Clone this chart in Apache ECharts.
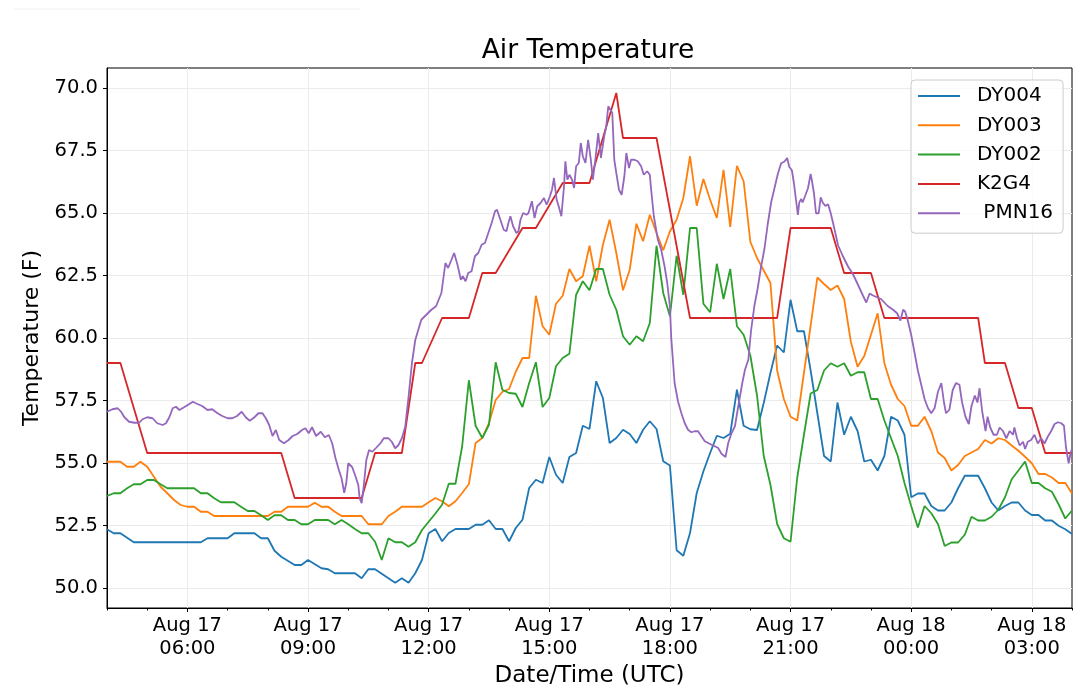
<!DOCTYPE html>
<html>
<head>
    <meta charset="utf-8">
    <script src="https://cdn.jsdelivr.net/npm/echarts@6/dist/echarts.min.js"></script>
    <style>
        html, body { margin: 0; padding: 0; background: #fff; }
    </style>
</head>
<body>
    <div id="main" style="width:1080px;height:697px"></div>

    <script type="text/javascript">
        // times are clock times on Aug 17, values past 24:00 are Aug 18
        var dy004Times = ['04:00','04:10','04:20','04:40','06:20','06:30','07:00','07:10','07:40','07:50','08:00','08:10','08:20','08:40','08:50','09:00','09:20','09:30','09:40','10:10','10:20','10:30','10:40','11:10','11:20','11:30','11:40','11:50','12:00','12:10','12:20','12:30','12:40','13:00','13:10','13:20','13:30','13:40','13:50','14:00','14:10','14:20','14:30','14:40','14:50','15:00','15:10','15:20','15:30','15:40','15:50','16:00','16:10','16:20','16:30','16:40','16:50','17:00','17:10','17:20','17:30','17:40','17:50','18:00','18:10','18:20','18:30','18:40','18:50','19:00','19:10','19:20','19:30','19:40','19:50','20:00','20:10','20:20','20:30','20:40','20:50','21:00','21:10','21:20','21:30','21:50','22:00','22:10','22:20','22:30','22:40','22:50','23:00','23:10','23:20','23:30','23:40','23:50','24:00','24:10','24:20','24:30','24:40','24:50','25:00','25:10','25:20','25:40','25:50','26:00','26:10','26:20','26:30','26:40','26:50','27:00','27:10','27:20','27:30','27:40','27:50','28:00'];
        var dy004Values = [52.35,52.19,52.19,51.83,51.83,51.99,51.99,52.19,52.19,51.99,51.99,51.49,51.25,50.92,50.92,51.12,50.79,50.75,50.59,50.59,50.39,50.75,50.75,50.21,50.39,50.21,50.59,51.12,52.19,52.36,51.87,52.2,52.36,52.36,52.53,52.53,52.71,52.36,52.36,51.87,52.4,52.73,54.0,54.33,54.2,55.24,54.53,54.2,55.24,55.4,56.49,56.36,58.27,57.6,55.8,56.0,56.33,56.16,55.8,56.33,56.67,56.36,55.07,54.9,51.51,51.29,52.2,53.8,54.67,55.4,56.09,56.0,56.17,57.93,56.49,56.35,56.32,57.4,58.6,59.7,59.42,61.53,60.27,60.27,58.7,55.28,55.06,57.42,56.13,56.85,56.28,55.06,55.13,54.7,55.28,56.85,56.7,56.13,53.63,53.78,53.78,53.28,53.1,53.1,53.42,53.99,54.49,54.49,53.99,53.42,53.1,53.28,53.42,53.42,53.1,52.92,52.92,52.7,52.7,52.49,52.35,52.16];

        var dy003Times = ['04:00','04:20','04:30','04:40','04:50','05:00','05:10','05:20','05:30','05:40','05:50','06:00','06:10','06:20','06:30','06:40','08:00','08:10','08:20','08:30','09:00','09:10','09:20','09:30','09:40','09:50','10:20','10:30','10:50','11:00','11:10','11:20','11:50','12:00','12:10','12:20','12:30','12:40','12:50','13:00','13:10','13:20','13:30','13:40','13:50','14:00','14:10','14:20','14:30','14:40','14:50','15:00','15:10','15:20','15:30','15:40','15:50','16:00','16:10','16:20','16:30','16:40','16:50','17:00','17:10','17:20','17:30','17:40','17:50','18:00','18:10','18:20','18:30','18:40','18:50','19:00','19:10','19:20','19:30','19:40','19:50','20:00','20:10','20:20','20:30','20:40','20:50','21:00','21:10','21:20','21:30','21:40','21:50','22:00','22:10','22:20','22:30','22:40','22:50','23:00','23:10','23:20','23:30','23:40','23:50','24:00','24:10','24:20','24:30','24:40','24:50','25:00','25:10','25:20','25:30','25:40','25:50','26:00','26:10','26:20','26:30','26:40','26:50','27:00','27:10','27:20','27:30','27:40','27:50','28:00'];
        var dy003Values = [55.05,55.05,54.85,54.85,55.05,54.85,54.45,54.05,53.79,53.52,53.32,53.25,53.25,53.05,53.05,52.88,52.88,53.05,53.05,53.25,53.25,53.41,53.25,53.25,53.05,52.88,52.88,52.55,52.55,52.88,53.05,53.25,53.25,53.43,53.6,53.47,53.27,53.47,53.8,54.16,55.8,56.0,56.6,57.52,57.85,57.96,58.65,59.2,59.2,61.69,60.47,60.13,61.37,61.69,62.76,62.27,62.47,63.69,62.27,63.73,64.73,63.4,61.91,62.73,64.57,63.87,64.93,64.2,63.51,64.27,64.73,65.6,67.27,65.29,66.36,65.53,64.8,66.73,64.44,66.89,66.27,63.85,63.2,62.7,62.2,58.7,57.56,56.85,56.7,58.6,60.5,62.42,62.16,61.92,62.1,61.56,59.85,58.85,59.28,60.13,60.99,58.99,58.13,57.56,57.28,56.49,56.49,56.85,56.28,55.42,55.2,54.7,54.92,55.28,55.42,55.56,55.92,55.78,55.99,55.92,55.7,55.49,55.25,54.99,54.56,54.56,54.42,54.2,54.2,53.78];

        var dy002Times = ['04:00','04:10','04:20','04:30','04:40','04:50','05:00','05:10','05:20','05:30','06:10','06:20','06:30','06:40','06:50','07:10','07:20','07:30','07:40','07:50','08:00','08:10','08:20','08:30','08:40','08:50','09:00','09:10','09:30','09:40','09:50','10:00','10:10','10:20','10:30','10:40','10:50','11:00','11:10','11:20','11:30','11:40','11:50','12:00','12:10','12:20','12:30','12:40','12:50','13:00','13:10','13:20','13:30','13:40','13:50','14:00','14:10','14:20','14:30','14:40','14:50','15:00','15:10','15:20','15:30','15:40','15:50','16:00','16:10','16:20','16:30','16:40','16:50','17:00','17:10','17:20','17:30','17:40','17:50','18:00','18:10','18:20','18:30','18:40','18:50','19:00','19:10','19:20','19:30','19:40','19:50','20:00','20:10','20:20','20:30','20:40','20:50','21:00','21:10','21:20','21:30','21:40','21:50','22:00','22:10','22:20','22:30','22:40','22:50','23:00','23:10','23:20','23:30','23:40','23:50','24:00','24:10','24:20','24:30','24:40','24:50','25:00','25:10','25:20','25:30','25:40','25:50','26:00','26:10','26:20','26:30','26:40','26:50','27:00','27:10','27:20','27:30','27:40','27:50','28:00'];
        var dy002Values = [53.68,53.79,53.79,53.99,54.15,54.15,54.32,54.32,54.15,53.99,53.99,53.79,53.79,53.59,53.43,53.43,53.25,53.08,53.08,52.91,52.72,52.91,52.91,52.72,52.72,52.55,52.55,52.72,52.72,52.55,52.72,52.55,52.36,52.19,52.19,51.85,51.12,51.99,51.83,51.83,51.65,51.83,52.32,52.65,52.98,53.33,54.17,54.17,55.67,58.31,56.49,56.0,56.53,59.03,57.93,57.8,57.77,57.24,58.2,59.03,57.24,57.6,58.87,59.2,59.37,61.73,62.27,61.91,62.76,62.76,61.73,61.13,60.07,59.73,60.07,59.87,60.6,63.69,61.8,60.87,63.29,61.73,64.4,64.4,61.37,61.03,62.97,61.56,62.76,60.47,60.13,59.3,57.7,55.28,54.13,52.56,51.99,51.85,54.42,56.13,57.78,57.92,58.7,58.99,58.85,58.99,58.49,58.63,58.63,57.56,57.56,56.7,55.99,55.28,54.2,53.28,52.42,53.28,52.99,52.56,51.68,51.82,51.82,52.13,52.85,52.7,52.7,52.85,53.13,53.63,54.35,54.7,55.06,54.2,54.2,53.99,53.85,53.35,52.78,53.1];

        var k2g4Times = ['04:00','04:20','05:00','08:20','08:40','10:20','10:40','11:20','11:40','11:50','12:20','13:00','13:20','13:40','14:20','14:40','15:20','16:00','16:40','16:50','17:40','18:30','20:40','21:00','22:00','22:20','23:00','23:20','25:40','25:50','26:20','26:40','27:00','27:20','28:00'];
        var k2g4Values = [59,59,55.4,55.4,53.6,53.6,55.4,55.4,59,59,60.8,60.8,62.6,62.6,64.4,64.4,66.2,66.2,69.8,68,68,60.8,60.8,64.4,64.4,62.6,62.6,60.8,60.8,59,59,57.2,57.2,55.4,55.4];

        var pmn16Times = ['04:00','04:08','04:16','04:21','04:26','04:33','04:41','04:48','04:53','05:00','05:08','05:15','05:23','05:28','05:33','05:38','05:43','05:48','05:55','06:03','06:08','06:15','06:22','06:30','06:37','06:45','06:52','07:00','07:07','07:14','07:21','07:27','07:33','07:40','07:46','07:52','07:57','08:02','08:07','08:12','08:17','08:24','08:31','08:37','08:44','08:51','08:56','09:01','09:06','09:12','09:19','09:25','09:31','09:36','09:41','09:46','09:50','09:54','09:57','10:00','10:06','10:11','10:15','10:17','10:20','10:23','10:27','10:31','10:36','10:41','10:48','10:53','11:00','11:05','11:10','11:15','11:20','11:25','11:30','11:35','11:40','11:49','12:04','12:11','12:19','12:25','12:29','12:34','12:38','12:43','12:48','12:51','12:55','12:59','13:04','13:09','13:14','13:19','13:24','13:29','13:34','13:39','13:42','13:47','13:52','13:56','13:59','14:02','14:06','14:11','14:14','14:17','14:21','14:26','14:29','14:34','14:38','14:42','14:47','14:52','14:56','15:01','15:04','15:07','15:11','15:14','15:18','15:22','15:24','15:27','15:30','15:34','15:37','15:40','15:44','15:47','15:50','15:54','15:58','16:02','16:05','16:09','16:13','16:17','16:19','16:22','16:25','16:28','16:30','16:34','16:37','16:40','16:44','16:48','16:52','16:55','16:59','17:02','17:07','17:12','17:17','17:21','17:26','17:30','17:32','17:36','17:42','17:47','17:52','17:56','18:00','18:02','18:07','18:12','18:17','18:22','18:27','18:32','18:37','18:42','18:47','18:52','18:57','19:02','19:07','19:12','19:17','19:23','19:27','19:32','19:37','19:42','19:48','19:52','19:57','20:01','20:06','20:11','20:16','20:21','20:26','20:31','20:36','20:41','20:46','20:51','20:55','20:58','21:02','21:05','21:08','21:11','21:13','21:16','21:18','21:22','21:26','21:30','21:32','21:35','21:38','21:42','21:45','21:48','21:52','21:56','22:00','22:05','22:11','22:18','22:26','22:33','22:38','22:43','22:48','22:53','22:58','23:03','23:09','23:15','23:20','23:25','23:33','23:39','23:44','23:48','23:51','23:55','24:00','24:05','24:10','24:15','24:20','24:25','24:30','24:35','24:40','24:45','24:49','24:52','24:57','25:02','25:07','25:12','25:16','25:21','25:26','25:30','25:35','25:39','25:42','25:46','25:51','25:54','25:58','26:03','26:08','26:12','26:17','26:22','26:27','26:32','26:34','26:38','26:42','26:47','26:50','26:54','26:59','27:04','27:09','27:14','27:19','27:24','27:29','27:34','27:39','27:44','27:48','27:51','27:55','27:58','28:00'];
        var pmn16Values = [57.05,57.15,57.19,57.05,56.83,56.65,56.61,56.61,56.75,56.83,56.79,56.59,56.52,56.59,56.83,57.19,57.25,57.12,57.23,57.36,57.45,57.36,57.28,57.12,57.15,56.99,56.88,56.79,56.79,56.88,57.05,56.83,56.69,56.83,56.99,56.99,56.79,56.52,56.08,56.32,55.92,55.79,55.92,56.08,56.16,56.32,56.39,56.19,56.43,56.08,56.25,56.03,56.12,55.79,55.19,54.72,54.39,53.81,54.19,54.99,54.83,54.45,54.12,53.59,53.39,54.05,55.12,55.52,55.45,55.59,55.79,55.99,55.99,55.85,55.59,55.72,55.99,56.45,57.65,58.99,59.92,60.73,61.13,61.27,61.8,63.0,62.8,63.13,63.4,62.93,62.33,62.47,62.27,62.6,62.67,63.27,63.4,63.73,63.8,64.2,64.6,65.07,65.13,64.73,64.33,64.27,64.6,64.87,64.47,64.2,64.27,64.73,65.0,64.93,65.0,65.47,64.8,65.27,65.4,65.6,65.33,65.67,65.93,66.4,65.53,65.27,64.87,66.07,67.07,66.33,66.53,66.33,66.0,66.87,67.0,67.8,67.27,67.0,67.93,67.13,66.33,67.2,68.2,67.2,67.13,68.07,68.47,69.27,69.33,69.0,67.13,66.6,65.93,65.73,66.47,67.4,66.8,67.13,67.13,67.07,66.87,66.53,66.67,66.53,65.93,64.87,63.93,63.53,62.87,62.2,61.27,60.0,58.2,57.47,57.0,56.6,56.33,56.23,56.27,56.27,56.07,55.87,55.8,55.73,55.67,55.6,55.37,55.24,55.8,56.2,56.47,57.27,58.2,58.73,59.13,60.28,61.28,61.99,62.85,63.56,64.56,65.42,65.99,66.56,66.99,67.06,67.2,66.85,66.71,66.2,65.56,64.92,65.42,65.56,65.42,65.7,65.99,66.56,66.28,65.78,64.99,64.99,65.63,65.42,65.28,65.35,64.99,64.42,63.7,63.28,62.85,62.56,62.28,61.99,61.7,61.42,61.78,61.7,61.63,61.56,61.42,61.28,61.13,60.99,60.7,61.13,61.06,60.7,60.13,59.42,58.7,58.13,57.56,57.2,56.99,57.2,57.85,58.2,57.42,56.99,57.13,57.92,58.2,58.13,57.42,56.85,56.56,57.28,57.7,57.42,57.99,57.06,56.28,56.85,56.42,56.13,56.13,56.42,56.28,55.99,56.28,56.13,56.42,55.99,55.7,55.85,55.56,55.85,55.92,56.13,55.78,55.99,55.78,56.06,56.28,56.56,56.63,56.59,56.49,55.63,54.99,55.42,55.56];

        var seriesNames = ['DY004', 'DY003', 'DY002', 'K2G4', ' PMN16'];
        var seriesColors = ['#1f77b4', '#ff7f0e', '#2ca02c', '#d62728', '#9467bd'];
        var xTicks = [6, 9, 12, 15, 18, 21, 24, 27];
        var yTicks = [50, 52.5, 55, 57.5, 60, 62.5, 65, 67.5, 70];

        function toHours(t) {
            var p = t.split(':');
            return parseInt(p[0], 10) + parseInt(p[1], 10) / 60;
        }

        function pairs(times, values) {
            var out = [];
            for (var i = 0; i < times.length; i++) {
                out.push([toHours(times[i]), values[i]]);
            }
            return out;
        }

        var allData = [
            pairs(dy004Times, dy004Values),
            pairs(dy003Times, dy003Values),
            pairs(dy002Times, dy002Values),
            pairs(k2g4Times, k2g4Values),
            pairs(pmn16Times, pmn16Values)
        ];

        var font = 'DejaVu Sans';

        var series = [];
        for (var i = 0; i < seriesNames.length; i++) {
            series.push({
                name: seriesNames[i],
                type: 'line',
                data: allData[i],
                showSymbol: false,
                symbol: 'none',
                lineStyle: { width: 1.8, color: seriesColors[i] },
                itemStyle: { color: seriesColors[i] }
            });
        }

        var myChart = echarts.init(document.getElementById('main'));
        var option = {
            animation: false,
            backgroundColor: '#fff',
            title: {
                text: 'Air Temperature',
                left: 588,
                top: 38,
                padding: 0,
                textAlign: 'center',
                textStyle: { fontFamily: font, fontSize: 26.5, fontWeight: 'normal', color: '#000' }
            },
            legend: {
                data: seriesNames,
                orient: 'vertical',
                left: 911,
                top: 80,
                padding: [5, 10, 9, 7],
                itemWidth: 42,
                itemHeight: 2,
                itemGap: 7.3,
                icon: 'rect',
                backgroundColor: 'rgba(255,255,255,0.8)',
                borderColor: '#cccccc',
                borderWidth: 1,
                borderRadius: 4,
                textStyle: { fontFamily: font, fontSize: 20, color: '#000', lineHeight: 22, padding: [0, 0, 0, 12] }
            },
            graphic: [{
                type: 'line',
                shape: { x1: 14, y1: 9, x2: 360, y2: 9 },
                style: { stroke: '#f0f0f0', lineWidth: 1 },
                silent: true
            }],
            grid: {
                left: 107,
                right: 8,
                top: 68,
                bottom: 89,
                show: true,
                borderColor: '#000',
                borderWidth: 1,
                containLabel: false
            },
            xAxis: [{
                type: 'value',
                min: 4,
                max: 28,
                name: 'Date/Time (UTC)',
                nameLocation: 'middle',
                nameGap: 54,
                nameTextStyle: { fontFamily: font, fontSize: 23, color: '#000' },
                axisLine: { show: true, lineStyle: { color: '#000', width: 1 } },
                axisTick: { show: true, length: 4, lineStyle: { color: '#000' }, customValues: xTicks },
                axisLabel: {
                    customValues: xTicks,
                    fontFamily: font,
                    fontSize: 19.5,
                    lineHeight: 23,
                    color: '#000',
                    margin: 6,
                    formatter: function (v) {
                        var day = v < 24 ? 'Aug 17' : 'Aug 18';
                        var h = Math.round(v) % 24;
                        return day + '\n' + (h < 10 ? '0' + h : h) + ':00';
                    }
                },
                splitLine: { show: true, lineStyle: { color: '#ebebeb', width: 1 } }
            }, {
                type: 'value',
                min: 4,
                max: 28,
                interval: 1,
                position: 'bottom',
                axisLine: { show: false },
                axisTick: { show: true, length: 2.5, lineStyle: { color: '#000' } },
                axisLabel: { show: false },
                splitLine: { show: false }
            }],
            yAxis: {
                type: 'value',
                min: 49.2,
                max: 70.8,
                name: 'Temperature (F)',
                nameLocation: 'middle',
                nameGap: 63,
                nameTextStyle: { fontFamily: font, fontSize: 22, color: '#000' },
                axisLine: { show: true, lineStyle: { color: '#000', width: 1 } },
                axisTick: { show: true, length: 4, lineStyle: { color: '#000' }, customValues: yTicks },
                axisLabel: {
                    customValues: yTicks,
                    fontFamily: font,
                    fontSize: 19.5,
                    color: '#000',
                    margin: 9,
                    formatter: function (v) { return v.toFixed(1); }
                },
                splitLine: { show: true, lineStyle: { color: '#ebebeb', width: 1 } }
            },
            series: series
        };

        myChart.setOption(option);
    </script>
</body>
</html>
